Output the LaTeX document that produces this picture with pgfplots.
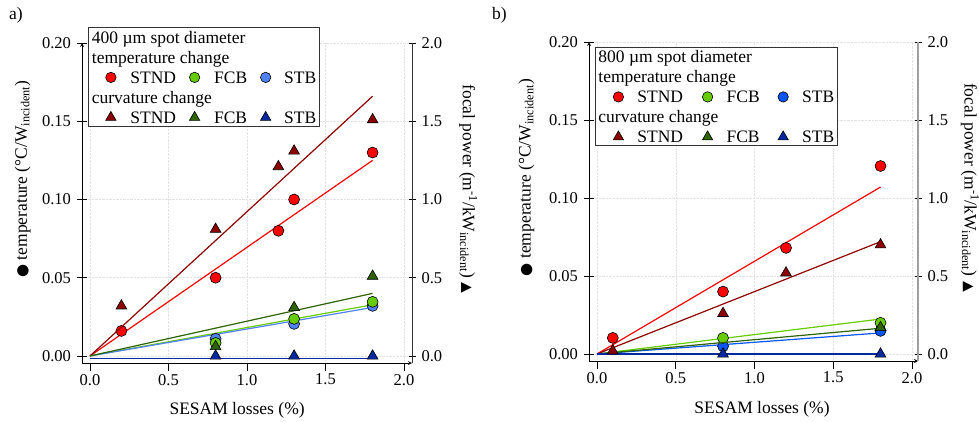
\documentclass[border=0pt]{standalone}
\usepackage{pgfplots}
\pgfplotsset{compat=1.18}
\usepackage{fontspec}
\setmainfont{Liberation Serif}
\newfontfamily\symf{DejaVu Sans}

\definecolor{cred}{RGB}{255,0,0}
\definecolor{cgreen}{RGB}{102,204,0}
\definecolor{cblueA}{RGB}{80,130,245}
\definecolor{cblueB}{RGB}{0,85,255}
\definecolor{cdred}{RGB}{140,0,0}
\definecolor{cdgreen}{RGB}{45,100,0}
\definecolor{cnavy}{RGB}{0,40,160}

% legend glyphs
\newcommand\mc[1]{\tikz[baseline=-0.7ex]\draw[black,line width=0.6pt,fill=#1] (0,0) circle[radius=5.2pt];}
\newcommand\mt[1]{\tikz[baseline=-0.7ex]\draw[black,line width=0.6pt,fill=#1] (90:6pt)--(210:6pt)--(330:6pt)--cycle;}

\pgfplotsset{
  base/.style={
    scale only axis, anchor=south west,
    tick align=outside,
    tick style={black, line width=0.6pt},
    axis line style={-, black, line width=0.8pt},
    /pgf/number format/assume math mode=true,
    tick label style={font=\fontsize{16.5}{18}\selectfont},
    label style={font=\fontsize{17.5}{20}\selectfont},
    xtick={0,0.5,1,1.5,2},
  },
  left/.style={
    base, ymin=-0.0045, ymax=0.2,
    axis x line=bottom, axis y line=left,
    ytick={0,0.05,0.1,0.15,0.2},
    yticklabel style={/pgf/number format/.cd, fixed, fixed zerofill, precision=2},
    xticklabel style={/pgf/number format/.cd, fixed, fixed zerofill, precision=1},
    xtick style={draw=none},
    major tick length=10pt,
    grid=major, grid style={densely dotted, gray!22, line width=0.5pt},
    xlabel={SESAM losses (\%)},
    ylabel={{\symf\fontsize{15}{18}\selectfont ●} temperature (°C/W\textsubscript{incident})},
  },
  right/.style={
    base, ymin=-0.045, ymax=2.0,
    axis y line=right, axis x line=bottom,
    x axis line style={draw=none},
    xticklabels={}, xtick style={yshift=-4pt},
    major tick length=7pt,
    ytick={0,0.5,1,1.5,2},
    yticklabel style={/pgf/number format/.cd, fixed, fixed zerofill, precision=1},
    ylabel={focal power (m\textsuperscript{-1}/kW\textsubscript{incident}) {\symf\fontsize{14}{18}\selectfont ▲}},
  },
  fit/.style={line width=1.2pt},
  circ/.style={only marks, mark=*, mark size=5.5pt, mark options={fill=#1, draw=black, line width=0.6pt}},
  tri/.style={only marks, mark=triangle*, mark size=6.2pt, mark options={fill=#1, draw=black, line width=0.6pt}},
}

\begin{document}
\fontsize{17.5}{20}\selectfont
\begin{tikzpicture}
\useasboundingbox (0,0) rectangle (979pt,421pt);

% ---------- panel a ----------
\begin{axis}[left, at={(82pt,58pt)}, width=330pt, height=320pt,
  xmin=-0.051, xmax=2.051,
  xlabel style={at={(axis description cs:0.47,-0.147)}, anchor=center},
  ylabel style={at={(axis description cs:-0.18,0.575)}, anchor=center}]
\addplot[cred, fit] coordinates {(0,0) (1.8,0.125)};
\addplot[cgreen, fit] coordinates {(0,0) (1.8,0.0327)};
\addplot[cblueA, fit] coordinates {(0,0) (1.8,0.031)};
\addplot[circ=cred] coordinates {(0.2,0.016) (0.8,0.05) (1.2,0.08) (1.3,0.10) (1.8,0.13)};
\addplot[circ=cblueA] coordinates {(0.8,0.011) (1.3,0.0205) (1.8,0.032)};
\addplot[circ=cgreen] coordinates {(0.8,0.0083) (1.3,0.0237) (1.8,0.0346)};
\end{axis}
\begin{axis}[right, at={(82pt,58pt)}, width=330pt, height=320pt,
  xmin=-0.051, xmax=2.051,
  y axis line style={-, draw=black!80, line width=0.8pt},
  ylabel style={at={(axis description cs:1.17,0.544)}, rotate=180, anchor=center}]
\addplot[cdred, fit] coordinates {(0,0) (1.8,1.66)};
\addplot[cdgreen, fit] coordinates {(0,0) (1.8,0.40)};
\addplot[cnavy, fit] coordinates {(0,-0.015) (1.8,-0.015)};
\addplot[tri=cdred] coordinates {(0.2,0.32) (0.8,0.81) (1.2,1.21) (1.3,1.31) (1.8,1.51)};
\addplot[tri=cdgreen] coordinates {(0.8,0.06) (1.3,0.31) (1.8,0.51)};
\addplot[tri=cnavy] coordinates {(0.8,0) (1.3,0) (1.8,0)};
\end{axis}

% ---------- panel b ----------
\begin{axis}[left, at={(589pt,60pt)}, width=329pt, height=319pt,
  xmin=-0.051, xmax=2.038,
  xlabel style={at={(axis description cs:0.526,-0.15)}, anchor=center},
  ylabel style={at={(axis description cs:-0.19,0.575)}, anchor=center}]
\addplot[cred, fit] coordinates {(0,0) (1.8,0.107)};
\addplot[cgreen, fit] coordinates {(0,0) (1.8,0.0224)};
\addplot[cblueB, fit] coordinates {(0,0) (1.8,0.0135)};
\addplot[circ=cred] coordinates {(0.1,0.0103) (0.8,0.040) (1.2,0.068) (1.8,0.1205)};
\addplot[circ=cblueB] coordinates {(0.8,0.005) (1.8,0.0148)};
\addplot[circ=cgreen] coordinates {(0.8,0.0103) (1.8,0.020)};
\end{axis}
\begin{axis}[right, at={(589pt,60pt)}, width=329pt, height=319pt,
  xmin=-0.051, xmax=2.038,
  y axis line style={-, draw=gray!75, line width=1.8pt},
  ylabel style={at={(axis description cs:1.158,0.544)}, rotate=180, anchor=center}]
\addplot[cdred, fit] coordinates {(0,0) (1.8,0.72)};
\addplot[cdgreen, fit] coordinates {(0,0) (1.8,0.165)};
\addplot[cnavy, fit] coordinates {(0,0) (1.8,0)};
\addplot[tri=cdred] coordinates {(0.1,0.02) (0.8,0.26) (1.2,0.52) (1.8,0.70)};
\addplot[tri=cdgreen] coordinates {(1.8,0.17)};
\addplot[tri=cnavy] coordinates {(0.8,0) (1.8,0)};
\end{axis}

% ---------- legends ----------
\node[draw=black!80, line width=0.8pt, fill=white, anchor=north west, inner sep=3.5pt, align=left]
  at (88pt,394pt) {400 µm spot diameter\\temperature change\\
  \hspace*{13.5pt}\mc{cred}\hspace{14pt}STND\hspace{13pt}\mc{cgreen}\hspace{14pt}FCB\hspace{13pt}\mc{cblueA}\hspace{13pt}STB\\
  curvature change\\
  \hspace*{13.5pt}\mt{cdred}\hspace{14pt}STND\hspace{13pt}\mt{cdgreen}\hspace{14pt}FCB\hspace{13pt}\mt{cnavy}\hspace{13pt}STB};
\node[draw=black!80, line width=0.8pt, fill=white, anchor=north west, inner sep=3pt, align=left]
  at (595pt,374pt) {800 µm spot diameter\\temperature change\\
  \hspace*{14.5pt}\mc{cred}\hspace{13.5pt}STND\hspace{19pt}\mc{cgreen}\hspace{13.5pt}FCB\hspace{18pt}\mc{cblueB}\hspace{13.5pt}STB\\
  curvature change\\
  \hspace*{14.5pt}\mt{cdred}\hspace{13.5pt}STND\hspace{19pt}\mt{cdgreen}\hspace{13.5pt}FCB\hspace{18pt}\mt{cnavy}\hspace{13.5pt}STB};

\node[anchor=west, inner sep=0pt] at (9pt,406pt) {a)};
\node[anchor=west, inner sep=0pt] at (492pt,406pt) {b)};
\end{tikzpicture}
\end{document}
